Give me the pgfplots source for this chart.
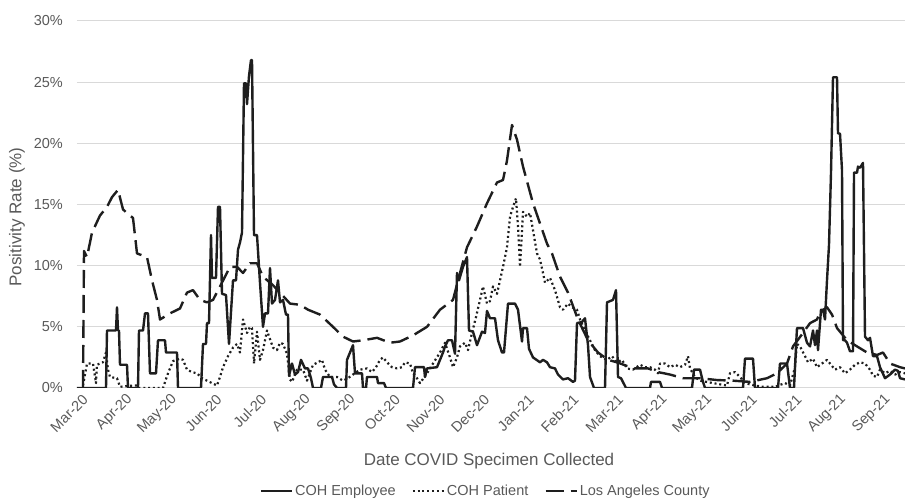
\documentclass[border=0pt]{standalone}
\usepackage{pgfplots}
\pgfplotsset{compat=1.18}
\usepackage{fontspec}
\setmainfont{Liberation Sans}
\definecolor{txt}{RGB}{89,89,89}
\definecolor{gridc}{RGB}{217,217,217}
\definecolor{ln}{RGB}{30,30,30}
\begin{document}
\begin{tikzpicture}
\begin{axis}[
  scale only axis, width=828pt, height=367pt,
  xmin=77, xmax=905, ymin=0, ymax=30,
  axis line style={draw=none},
  major tick length=0pt,
  ytick={0,5,...,30},
  yticklabels={0\%,5\%,10\%,15\%,20\%,25\%,30\%},
  ymajorgrids, grid style={gridc, line width=1pt},
  xtick={85.5,130.1,174.7,219.3,263.9,308.5,353.1,397.7,442.3,486.9,531.5,576.1,620.7,665.3,709.9,754.5,799.1,843.7,888.3},
  xticklabels={Mar-20,Apr-20,May-20,Jun-20,Jul-20,Aug-20,Sep-20,Oct-20,Nov-20,Dec-20,Jan-21,Feb-21,Mar-21,Apr-21,May-21,Jun-21,Jul-21,Aug-21,Sep-21},
  /pgf/number format/assume math mode=true,
  tick label style={font=\fontsize{14.5}{17}\selectfont, text=txt},
  xticklabel style={rotate=45, anchor=east, inner sep=0pt},
  xticklabel shift=9pt,
  yticklabel style={anchor=east, inner sep=0pt},
  yticklabel shift=14pt,
  label style={font=\fontsize{17}{20}\selectfont, text=txt},
  xlabel={Date COVID Specimen Collected},
  ylabel={Positivity Rate (\%)},
  xlabel style={at={(axis description cs:0.4976,-0.199)}, anchor=center},
  ylabel style={at={(axis description cs:-0.0725,0.466)}, anchor=center},
  legend columns=3,
  legend style={at={(axis description cs:0.4935,-0.281)}, anchor=center, draw=none, fill=none,
    font=\fontsize{14.5}{17}\selectfont, text=txt, inner sep=0pt,
    /tikz/every even column/.append style={column sep=14pt}},
  legend image code/.code={\draw[#1] (0pt,0pt) -- (31pt,0pt);},
  every axis plot/.append style={line join=round},
]
\addplot[ln, line width=2.4pt] table {
x y
77 0
83 0
106 0
107 4.7
116 4.7
117 6.6
118 4.7
119 4.7
120 1.9
127 1.9
128 0
138 0
139 4.7
143 4.7
145 6.1
148 6.1
150 1.2
156 1.2
158 3.9
165 3.9
166 2.9
177 2.9
178 0
201 0
203 3.6
206 3.6
207 5.3
209 5.3
211 12.5
212 9.0
216 9.0
218 14.8
220 14.8
222 7.7
226 7.6
229 3.6
233 8.8
236 8.8
238 11.3
240 11.9
242 12.7
244 24.9
246 24.9
247 23.2
249 25.5
251 26.8
252 26.8
254 12.5
257 12.5
260 8.6
263 5.0
265 6.1
268 6.1
270 9.8
272 6.9
275 7.2
278 8.8
280 7.0
283 7.2
286 6.0
288 6.0
289 1.0
292 2.0
295 1.1
298 1.3
301 2.3
305 1.6
308 1.6
311 0.8
313 0
321 0
323 0.9
332 0.9
334 0.3
337 0
346 0
347 2.3
353 3.5
355 1.2
362 1.2
363 0
366 0
367 0.9
377 0.9
378 0.4
384 0.4
386 0
413 0
415 1.7
424 1.7
425 0.9
427 1.6
437 1.7
440 2.3
443 2.9
445 3.4
448 3.9
452 3.9
455 2.8
457 9.4
459 8.8
463 9.9
467 10.7
469 4.7
473 4.6
477 3.5
482 4.6
485 4.5
487 6.3
490 5.7
495 5.7
498 3.9
502 2.9
504 2.9
508 6.9
515 6.9
518 6.4
522 3.8
523 4.9
527 4.9
529 3.2
533 2.5
540 2.1
543 2.3
547 2.1
550 1.7
555 1.6
558 1.1
563 0.7
568 0.8
573 0.5
575 0.6
577 5.3
582 5.4
585 5.7
588 3.5
590 0.9
594 0
605 0
607 7.0
613 7.2
616 8.0
618 0.9
621 0.8
626 0
650 0
651 0.5
660 0.5
662 0
692 0
694 1.5
700 1.5
703 0.5
705 0
743 0
745 2.4
753 2.4
755 0
778 0
780 2.0
787 2.0
790 0
794 0
796 3.4
797 4.9
803 4.9
807 3.7
810 3.4
813 4.7
815 3.5
817 4.7
818 3.1
821 6.4
823 6.4
825 5.6
827 8.8
829 11.7
831 17.6
833 25.4
837 25.4
838 20.8
840 20.8
842 17.8
843 3.9
845 3.9
847 3.7
850 3.0
853 3.0
854 17.6
857 17.6
858 18.1
860 18.0
863 18.4
865 4.2
868 3.9
870 4.1
873 2.6
877 2.6
880 1.7
885 0.8
890 1.1
895 1.5
898 1.4
900 0.8
905 0.7
};
\addlegendentry{COH Employee}
\addplot[ln, line width=2.2pt, dash pattern=on 2pt off 2.8pt] table {
x y
83 0.2
87 2.0
93 2.0
96 0.4
97 1.9
103 2.1
106 2.9
108 1.5
110 0.9
117 0.8
120 0.1
133 0.2
137 0.2
139 0
163 0
168 1.2
173 2.2
180 2.4
183 2.3
187 1.5
192 1.3
197 1.2
202 0.8
207 0.6
212 0.4
217 0.2
220 0.9
223 1.7
228 2.6
233 3.3
237 3.6
240 2.9
243 5.6
247 4.5
250 5.0
252 4.9
254 2.0
257 4.6
260 2.3
263 3.1
267 4.7
270 4.0
273 3.3
277 3.1
280 3.7
283 3.6
287 2.8
290 0.7
292 0.5
297 1.5
303 1.5
307 0.6
313 1.9
318 2.1
322 2.3
325 1.5
330 0.9
337 0.9
343 0.6
348 0.8
353 1.1
360 1.5
367 1.6
372 1.3
376 1.7
380 2.3
383 2.5
387 2.1
392 1.7
397 1.6
402 1.7
405 2.1
410 2.0
413 1.2
417 0.8
420 0.4
427 1.2
433 2.0
440 2.9
445 3.7
450 2.5
453 1.7
457 2.5
460 3.4
465 3.7
468 3.1
472 4.5
476 5.8
480 7.2
483 8.3
487 6.9
490 7.1
493 8.3
497 7.7
500 8.8
503 9.9
507 11.5
510 14.0
513 14.8
516 15.5
518 13.2
520 9.9
523 14.4
527 14.0
530 14.3
533 12.9
537 11.0
540 10.5
543 9.4
545 8.6
550 9.0
555 8.0
560 6.6
563 6.4
568 6.9
572 6.6
577 6.4
580 5.6
585 4.7
590 3.9
595 3.1
600 2.6
607 2.3
612 2.6
617 2.1
622 2.3
627 1.6
633 1.5
640 1.9
645 1.7
650 1.7
655 1.5
658 1.2
660 2.0
665 2.0
670 1.7
675 1.9
680 1.7
685 1.9
688 2.6
690 1.6
695 0.9
700 0.6
713 0.4
727 0.2
730 1.2
735 1.3
740 0.9
745 0.4
755 0.2
763 0.1
775 0.1
785 0.4
790 0.2
795 1.7
797 3.6
800 3.4
805 2.6
808 2.1
813 2.4
817 1.7
822 2.0
827 2.3
830 2.0
835 1.5
840 1.7
845 1.2
850 1.5
855 1.9
860 2.1
865 2.0
870 1.5
873 1.0
877 0.9
880 1.5
885 1.2
890 1.4
895 1.1
900 1.3
905 1.2
};
\addlegendentry{COH Patient}
\addplot[ln, line width=2.4pt, dash pattern=on 18pt off 7pt] table {
x y
83 0
84 11.2
87 10.7
92 12.7
100 14.1
107 14.8
112 15.6
118 16.2
123 14.6
127 14.3
133 13.9
137 11.0
147 10.7
152 8.8
157 7.2
160 5.6
170 6.1
180 6.5
187 7.8
193 8.0
200 7.2
207 7.0
213 7.2
220 8.3
230 9.9
237 9.9
243 9.4
250 10.2
257 10.2
263 9.1
273 8.4
280 7.8
290 6.9
300 6.8
308 6.4
320 6.0
333 5.0
343 4.2
353 3.8
363 3.9
377 4.1
390 3.7
400 3.8
413 4.3
427 5.0
440 6.4
453 7.2
460 9.4
467 11.5
477 13.2
487 15.1
497 16.8
503 17.0
507 18.6
512 21.5
517 20.3
523 18.1
533 15.1
547 11.8
552 11.0
560 9.1
568 7.8
578 5.6
588 3.9
598 2.9
608 2.3
617 2.1
627 1.8
635 1.6
648 1.6
658 1.3
670 1.1
683 0.8
700 0.8
717 0.65
733 0.6
750 0.5
767 0.8
777 1.2
787 2.0
793 3.4
803 4.5
810 5.3
817 5.6
820 6.2
827 6.6
832 6.0
837 4.9
847 3.9
857 3.4
867 2.9
877 2.7
883 2.9
890 2.0
900 1.7
905 1.6
};
\addlegendentry{Los Angeles County}
\end{axis}
\pgfresetboundingbox
\path[use as bounding box] (-77pt,-114pt) rectangle (828pt,388pt);
\end{tikzpicture}
\end{document}
